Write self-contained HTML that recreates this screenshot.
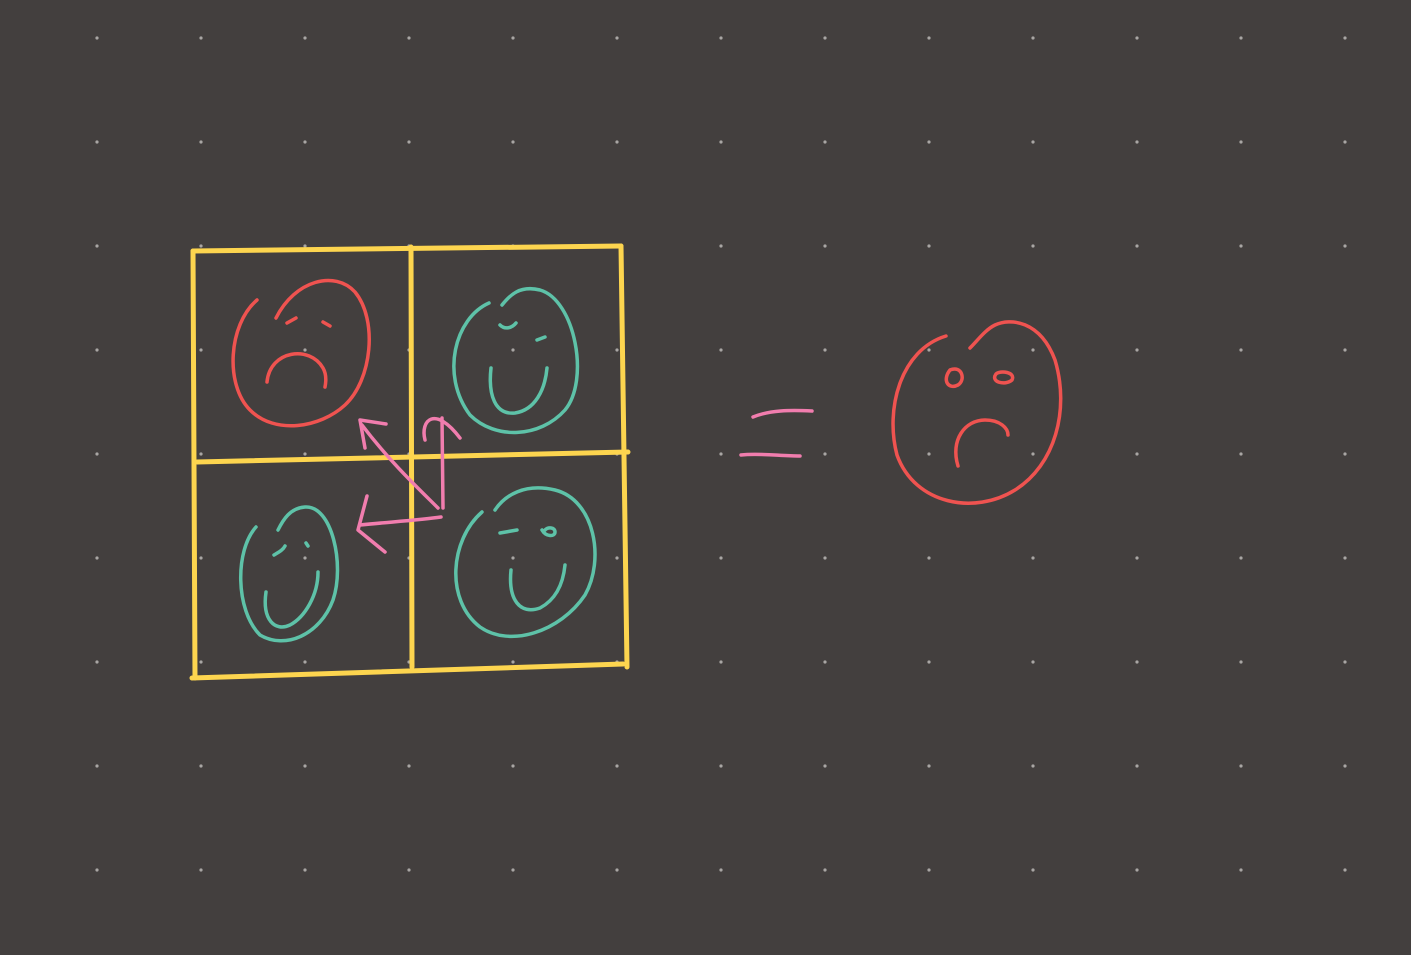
<!DOCTYPE html>
<html><head><meta charset="utf-8"><style>
html,body{margin:0;padding:0;background:#433f3e;}
svg{display:block}
</style></head><body>
<svg width="1411" height="955" viewBox="0 0 1411 955">
<rect width="1411" height="955" fill="#433f3e"/>
<g id="dots" fill="#a9a6a4"></g>
<g fill="none" stroke-linecap="round" stroke-linejoin="round">
 <g stroke="#fdd54f" stroke-width="5">
  <path d="M193,251 L621,246"/>
  <path d="M193,251 L195,678"/>
  <path d="M192,678 L623,664"/>
  <path d="M621,246 L627,667"/>
  <path d="M411,247 L412,667"/>
  <path d="M197,462 L628,452"/>
 </g>
 <g stroke="#ef5350" stroke-width="3.5">
  <path d="M257,300 C228,325 225,385 250,410 C275,435 320,428 345,405 C372,380 378,320 355,292 C335,270 295,280 276,318"/>
  <path d="M287,323 L296,318"/>
  <path d="M323,322 L330,326"/>
  <path d="M267,382 C270,350 310,345 323,368 C327,375 326,382 325,387"/>
 </g>
 <g stroke="#5ec2a8" stroke-width="3.5">
  <path d="M489,303 C455,318 440,375 470,415 C495,440 540,438 565,410 C590,380 575,300 540,290 C520,285 510,295 502,305"/>
  <path d="M500,325 C505,330 512,328 516,323"/>
  <path d="M537,340 L545,337"/>
  <path d="M491,368 C488,395 495,415 515,413 C535,410 545,390 547,368"/>
 </g>
 <g stroke="#5ec2a8" stroke-width="3.5">
  <path d="M256,527 C235,550 235,610 260,635 C285,650 320,635 333,600 C345,565 332,505 305,507 C290,508 283,520 278,530"/>
  <path d="M274,555 C279,552 283,550 285,546"/>
  <path d="M306,543 L308,546"/>
  <path d="M266,592 C262,620 275,632 290,625 C305,617 318,595 318,572"/>
 </g>
 <g stroke="#5ec2a8" stroke-width="3.5">
  <path d="M482,512 C450,540 445,600 480,627 C510,648 560,632 585,595 C605,560 595,500 555,490 C525,483 505,495 495,510"/>
  <path d="M500,533 L517,530"/>
  <path d="M542,530 C546,537 555,537 555,532 C555,527 548,527 545,530"/>
  <path d="M511,570 C508,600 520,615 540,608 C555,600 563,585 565,565"/>
 </g>
 <g stroke="#f17dae" stroke-width="3.5">
  <path d="M438,508 C420,490 390,462 362,425"/>
  <path d="M360,420 L365,448 M360,420 L386,424"/>
  <path d="M441,517 C420,520 390,522 360,525"/>
  <path d="M367,496 L358,530 L385,552"/>
  <path d="M443,508 L442,418"/>
  <path d="M425,440 C420,420 435,405 460,438"/>
  <path d="M753,417 C770,410 790,410 812,411"/>
  <path d="M741,455 C760,453 780,456 800,456"/>
 </g>
 <g stroke="#ef5350" stroke-width="3.5">
  <path d="M946,336 C900,350 885,410 897,455 C915,505 975,515 1015,490 C1055,465 1070,410 1055,360 C1040,320 1010,318 995,325 C985,330 978,340 970,348"/>
  <path d="M950,370 C942,380 948,390 958,385 C966,380 962,365 950,370"/>
  <path d="M996,374 C990,382 1005,386 1012,380 C1016,372 1000,370 996,374"/>
  <path d="M958,466 C950,440 965,420 985,420 C1000,420 1008,428 1008,435"/>
 </g>
</g>
<script>
const g=document.getElementById('dots');
for(let y=38;y<955;y+=104){for(let x=97;x<1411;x+=104){
 const c=document.createElementNS('http://www.w3.org/2000/svg','circle');
 c.setAttribute('cx',x);c.setAttribute('cy',y);c.setAttribute('r',1.6);
 
 
 g.appendChild(c);}}
</script>
</svg>
</body></html>
